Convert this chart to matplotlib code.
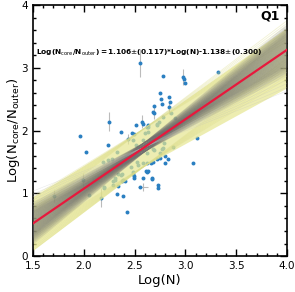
import numpy as np
import matplotlib.pyplot as plt

# data
log_n = [1.71, 1.96, 1.99, 2.02, 2.05, 2.17, 2.20, 2.19, 2.24, 2.28, 2.24, 2.25, 2.33, 2.29, 2.31,
         2.33, 2.39, 2.42, 2.37, 2.39, 2.41, 2.34, 2.38, 2.37, 2.43, 2.49, 2.51, 2.55, 2.57, 2.62,
         2.46, 2.48, 2.48, 2.53, 2.58, 2.62, 2.66, 2.72, 2.75, 2.80, 2.80, 2.83, 2.62, 2.63, 2.58,
         2.49, 2.73, 2.73, 2.55, 2.67, 2.88, 2.77, 2.69, 3.07, 3.11, 2.63, 2.63, 2.72, 2.74, 2.79,
         2.70, 2.78, 2.98, 2.99, 3.00, 3.32, 2.75, 2.76, 2.77, 2.84, 2.85, 2.69, 2.78, 2.84, 2.86,
         2.90, 2.58, 2.63, 2.72, 2.68, 2.69, 2.58, 2.60, 2.47, 2.48, 2.51, 2.58, 2.62, 2.68, 2.75,
         2.78, 2.52, 2.68, 2.49, 2.61, 2.67, 2.20, 2.29, 2.34, 2.38, 2.31]
log_ratio = [0.96, 1.91, 1.21, 1.66, 0.97, 0.93, 1.08, 1.50, 1.53, 1.55, 1.77, 2.14, 1.66, 1.19, 1.24,
             0.99, 0.96, 0.70, 1.29, 1.21, 1.20, 1.31, 1.30, 1.98, 1.86, 1.94, 2.09, 3.08, 2.14, 2.06,
             1.42, 1.34, 1.31, 1.45, 1.48, 1.48, 1.48, 1.55, 1.56, 1.59, 1.48, 1.55, 1.34, 1.35, 1.24,
             1.24, 1.13, 1.08, 1.10, 1.24, 1.74, 1.70, 1.69, 1.48, 1.88, 2.06, 1.98, 2.10, 2.14, 1.80,
             1.85, 2.87, 2.85, 2.82, 2.75, 2.93, 2.60, 2.50, 2.42, 2.53, 2.46, 2.28, 2.22, 2.37, 2.28,
             2.20, 2.11, 2.09, 2.09, 2.29, 2.39, 1.85, 1.96, 1.96, 1.85, 1.77, 1.69, 1.64, 1.71, 1.64,
             1.72, 1.50, 1.50, 1.27, 1.35, 1.23, 1.10, 1.13, 1.12, 1.20, 1.21]

# points with visible error bars
err_x = [2.55, 2.25, 2.98, 2.69, 2.57, 1.71, 1.99, 2.17, 2.43, 2.84]
err_y = [3.08, 2.14, 2.85, 2.28, 2.14, 0.96, 1.21, 0.93, 1.86, 2.37]
err_dy = [0.22, 0.15, 0.13, 0.10, 0.10, 0.10, 0.12, 0.15, 0.08, 0.10]
cross_x, cross_y, cross_dx, cross_dy = [2.58], [1.10], [0.05], [0.07]

slope, slope_err = 1.106, 0.117
intercept, intercept_err = -1.138, 0.300
pivot = 2.6

fig = plt.figure(figsize=(2.95, 2.92), dpi=100)
ax = fig.add_axes([0.112, 0.123, 0.861, 0.860])

ax.errorbar(err_x, err_y, yerr=err_dy, fmt='none', ecolor='#bbbbbb', elinewidth=0.8, zorder=1)
ax.errorbar(cross_x, cross_y, xerr=cross_dx, yerr=cross_dy, fmt='none', ecolor='#bbbbbb',
            elinewidth=0.8, zorder=1)
ax.scatter(log_n, log_ratio, s=8, color='#2a7fc1', zorder=1, linewidths=0)

xx = np.linspace(1.5, 4.0, 50)
y0 = slope * pivot + intercept

# yellow band from the quoted uncertainties
u = np.linspace(-1, 1, 9)
fam = np.array([(slope + slope_err * a) * (xx - pivot) + y0 + intercept_err * b
                for a in u for b in u])
lo, hi = fam.min(axis=0), fam.max(axis=0)
lo = lo - 0.1 * (xx - pivot).clip(0)
hi = hi - 0.08 * (xx - pivot).clip(0)
ax.fill_between(xx, lo, hi, color='#e6e690', alpha=0.7, lw=0, zorder=2)
for a in u:
    for b in (-1, 1):
        ax.plot(xx, (slope + slope_err * a) * (xx - pivot) + y0 + intercept_err * b,
                color='#dcdc88', alpha=0.35, lw=0.6, zorder=2)

# gray sample lines
g = np.linspace(-2, 2, 31)
for a in g:
    for b in np.linspace(-1, 1, 5):
        ax.plot(xx, (slope + slope_err * a) * (xx - pivot) + y0 + 0.07 * b,
                color='#707070', alpha=0.13, lw=0.8, zorder=3)
for a in np.linspace(-4, -2.2, 6):
    ax.plot(xx, (slope + slope_err * a) * (xx - pivot) + y0,
            color='#c0c0c0', alpha=0.35, lw=0.4, zorder=3)

ax.plot(xx, slope * xx + intercept, color='#e8183c', lw=1.6, zorder=4)

ax.text(1.53, 3.24, r'Log(N$_{\rm core}$/N$_{\rm outer}$) =1.106$\pm$(0.117)*Log(N)-1.138$\pm$(0.300)',
        fontsize=5.3, fontweight='bold', va='center', ha='left', zorder=5)
ax.text(3.93, 3.82, 'Q1', fontsize=9, fontweight='bold', ha='right', va='center', zorder=5)

ax.set_xlim(1.5, 4.0)
ax.set_ylim(0, 4)
ax.set_xticks([1.5, 2.0, 2.5, 3.0, 3.5, 4.0])
ax.set_yticks([0, 1, 2, 3, 4])
ax.set_xticks(np.arange(1.5, 4.01, 0.1), minor=True)
ax.set_yticks(np.arange(0, 4.01, 0.2), minor=True)
ax.tick_params(which='both', direction='in', top=True, right=True, labelsize=7.5, width=1)
ax.tick_params(which='major', length=5)
ax.tick_params(which='minor', length=2.5)
for s in ax.spines.values():
    s.set_linewidth(1.2)
ax.set_xlabel('Log(N)', fontsize=9.5, labelpad=2)
ax.set_ylabel(r'Log(N$_{\rm core}$/N$_{\rm outer}$)', fontsize=9.5, labelpad=0)

fig.savefig('out.png', dpi=100)
